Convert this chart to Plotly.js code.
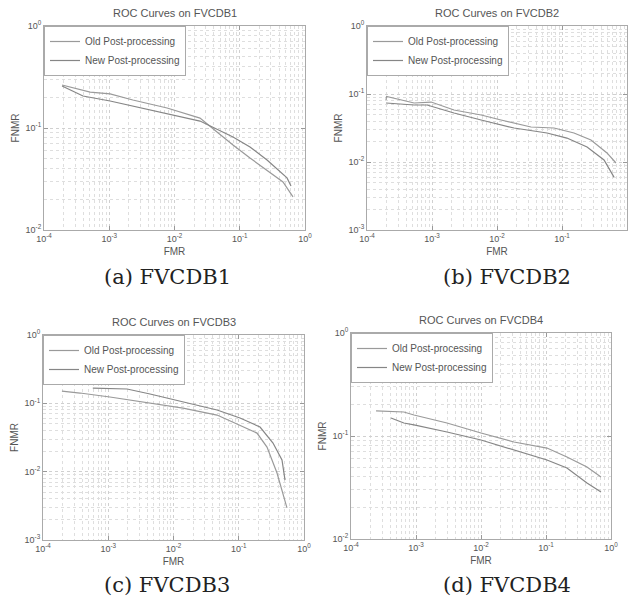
<!DOCTYPE html>
<html>
<head>
<meta charset="utf-8">
<script src="https://cdn.plot.ly/plotly-3.0.1.min.js"></script>
<style>html,body{margin:0;padding:0;background:#fff;}#chart{width:634px;height:604px;}</style>
</head>
<body>
<div id="chart"></div>
<script>
// ---- data ----
const seriesNames = ["Old Post-processing", "New Post-processing"];
const panelTitles = ["ROC Curves on FVCDB1", "ROC Curves on FVCDB2", "ROC Curves on FVCDB3", "ROC Curves on FVCDB4"];
const captions = ["(a) FVCDB1", "(b) FVCDB2", "(c) FVCDB3", "(d) FVCDB4"];
const xTickVals = [1e-4, 1e-3, 1e-2, 1e-1, 1];
const xTickText = ["10<sup>-4</sup>", "10<sup>-3</sup>", "10<sup>-2</sup>", "10<sup>-1</sup>", "10<sup>0</sup>"];
const yTickVals = [1e-3, 1e-2, 1e-1, 1];
const yTickText = ["10<sup>-3</sup>", "10<sup>-2</sup>", "10<sup>-1</sup>", "10<sup>0</sup>"];

// FVCDB1
const fmrA_old  = [1.89e-4, 3.0e-4, 5.1e-4, 1.03e-3, 2.3e-3, 7.7e-3, 0.0246, 0.0448, 0.0788, 0.1436, 0.262, 0.46, 0.655];
const fnmrA_old = [0.264, 0.247, 0.225, 0.216, 0.188, 0.157, 0.125, 0.0914, 0.068, 0.0508, 0.0387, 0.0296, 0.0211];
const fmrA_new  = [1.89e-4, 2.5e-4, 3.96e-4, 1.03e-3, 2.3e-3, 7.7e-3, 0.0246, 0.0788, 0.1436, 0.262, 0.53, 0.61];
const fnmrA_new = [0.258, 0.236, 0.206, 0.184, 0.164, 0.137, 0.117, 0.0816, 0.0651, 0.0486, 0.0324, 0.027];
// FVCDB2
const fmrB_old  = [1.96e-4, 2.0e-4, 5.3e-4, 9.7e-4, 2.18e-3, 5.7e-3, 0.01153, 0.0333, 0.0753, 0.153, 0.279, 0.492, 0.677];
const fnmrB_old = [0.0816, 0.092, 0.0737, 0.0762, 0.0582, 0.0491, 0.0415, 0.0327, 0.0316, 0.0267, 0.0211, 0.0136, 0.00966];
const fmrB_new  = [1.96e-4, 5.3e-4, 8.4e-4, 2.18e-3, 5.7e-3, 0.0183, 0.0588, 0.119, 0.243, 0.443, 0.631];
const fnmrB_new = [0.0737, 0.0689, 0.0689, 0.0526, 0.0415, 0.0316, 0.0267, 0.0225, 0.0166, 0.0107, 0.0060];
// FVCDB3
const fmrC_old  = [1.95e-4, 3.69e-4, 1.06e-3, 4.37e-3, 0.014, 0.0465, 0.1045, 0.1905, 0.271, 0.386, 0.548];
const fnmrC_old = [0.151, 0.1415, 0.1237, 0.101, 0.0853, 0.0674, 0.0481, 0.0367, 0.0229, 0.00955, 0.00295];
const fmrC_new  = [5.8e-4, 1.94e-3, 4.37e-3, 0.014, 0.0465, 0.1045, 0.212, 0.335, 0.46, 0.512];
const fnmrC_new = [0.1675, 0.162, 0.137, 0.1045, 0.0798, 0.061, 0.045, 0.0262, 0.0148, 0.00753];
// FVCDB4
const fmrD_old  = [2.43e-4, 6.5e-4, 9.3e-4, 3.0e-3, 0.01, 0.0322, 0.1035, 0.21, 0.427, 0.702];
const fnmrD_old = [0.175, 0.171, 0.16, 0.1337, 0.107, 0.0874, 0.0764, 0.0625, 0.05, 0.04];
const fmrD_new  = [4.12e-4, 6.5e-4, 9.3e-4, 3.0e-3, 0.01, 0.0322, 0.1035, 0.21, 0.427, 0.702];
const fnmrD_new = [0.1496, 0.1337, 0.128, 0.1094, 0.0914, 0.0731, 0.0585, 0.0489, 0.035, 0.0286];

const yRanges = [[-2, 0], [-3, 0], [-3, 0], [-2, 0]];

// ---- layout geometry (pixels) ----
const W = 634, H = 604;
const boxes = [ // [left, right, top, bottom] in px
  [44, 305, 26, 230],
  [367, 627, 26, 230],
  [43, 304, 335, 540],
  [351, 611, 333, 539]
];
const captionPos = [[167, 277], [507, 277], [167, 585], [507, 585]];

const panels = [
  [fmrA_old, fnmrA_old, fmrA_new, fnmrA_new],
  [fmrB_old, fnmrB_old, fmrB_new, fnmrB_new],
  [fmrC_old, fnmrC_old, fmrC_new, fnmrC_new],
  [fmrD_old, fnmrD_old, fmrD_new, fnmrD_new]
];
const lineColors = ["#9a9a9a", "#868686"];

const traces = [];
const layout = {
  width: W, height: H,
  margin: {l: 0, r: 0, t: 0, b: 0},
  paper_bgcolor: "#fff", plot_bgcolor: "#fff",
  font: {family: "Liberation Sans, Arial, sans-serif", color: "#555", size: 9},
  showlegend: true,
  annotations: [],
  shapes: []
};

panels.forEach((p, i) => {
  const n = i + 1;
  const xa = "x" + (n === 1 ? "" : n), ya = "y" + (n === 1 ? "" : n);
  const xk = "xaxis" + (n === 1 ? "" : n), yk = "yaxis" + (n === 1 ? "" : n);
  const lg = "legend" + (n === 1 ? "" : n);
  const b = boxes[i];
  const xd = [b[0] / W, b[1] / W];
  const yd = [1 - b[3] / H, 1 - b[2] / H];
  for (let s = 0; s < 2; s++) {
    traces.push({
      type: "scatter", mode: "lines",
      x: p[s * 2], y: p[s * 2 + 1],
      name: seriesNames[s],
      xaxis: xa, yaxis: ya, legend: lg,
      line: {color: lineColors[s], width: 1.2}
    });
  }
  const grid = {showgrid: true, gridcolor: "#d0d0d0", griddash: "dot", gridwidth: 1};
  layout[xk] = Object.assign({
    type: "log", domain: xd, range: [-4, 0], anchor: ya,
    tickvals: xTickVals, ticktext: xTickText,
    ticks: "inside", ticklen: 4, tickcolor: "#999",
    showline: true, linecolor: "#aaa", linewidth: 1, mirror: "ticks",
    zeroline: false,
    tickfont: {size: 9, color: "#555"},
    title: {text: "FMR", font: {size: 10, color: "#555"}, standoff: 5},
    minor: {dtick: "D1", showgrid: true, gridcolor: "#dedede", griddash: "dot", ticks: ""}
  }, grid);
  layout[yk] = Object.assign({
    type: "log", domain: yd, range: yRanges[i], anchor: xa,
    tickvals: yTickVals, ticktext: yTickText,
    ticks: "inside", ticklen: 4, tickcolor: "#999",
    showline: true, linecolor: "#aaa", linewidth: 1, mirror: "ticks",
    zeroline: false,
    tickfont: {size: 9, color: "#555"},
    title: {text: "FNMR", font: {size: 10, color: "#555"}, standoff: 4},
    minor: {dtick: "D1", showgrid: true, gridcolor: "#dedede", griddash: "dot", ticks: ""}
  }, grid);
  layout[lg] = {
    x: xd[0], y: yd[1], xanchor: "left", yanchor: "top",
    xref: "paper", yref: "paper",
    bgcolor: "#fff", bordercolor: "#aaa", borderwidth: 1,
    font: {size: 10, color: "#555"},
    itemwidth: 30, tracegroupgap: 0
  };
  layout.annotations.push({
    text: panelTitles[i], xref: "paper", yref: "paper",
    x: (xd[0] + xd[1]) / 2, y: yd[1] + 13 / H,
    xanchor: "center", yanchor: "middle", showarrow: false,
    font: {size: 11, color: "#555"}
  });
  layout.annotations.push({
    text: captions[i], xref: "paper", yref: "paper",
    x: captionPos[i][0] / W, y: 1 - captionPos[i][1] / H,
    xanchor: "center", yanchor: "middle", showarrow: false,
    font: {size: 21, color: "#222", family: "DejaVu Serif, Liberation Serif, serif"}
  });
});

Plotly.newPlot("chart", traces, layout, {staticPlot: true, displayModeBar: false});
</script>
</body>
</html>
